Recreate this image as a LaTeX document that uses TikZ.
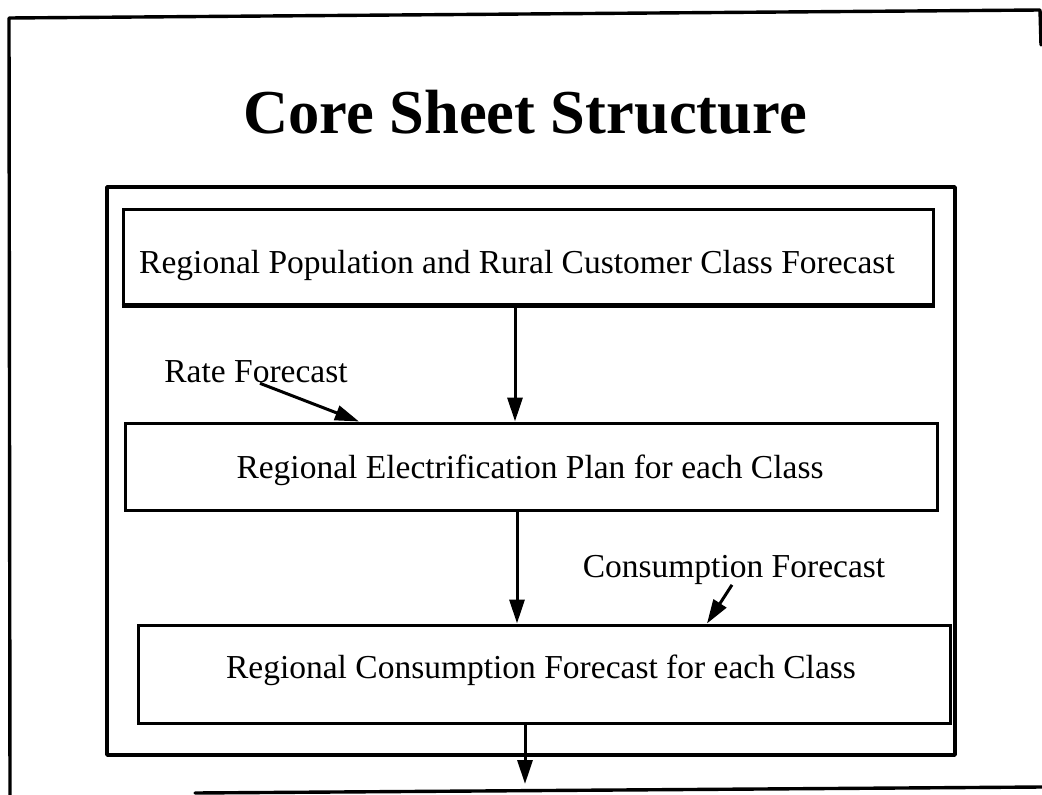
\documentclass[tikz,border=0pt]{standalone}
\usepackage{fontspec}
\setmainfont{Liberation Serif}
\usetikzlibrary{arrows.meta}
\begin{document}
\begin{tikzpicture}[x=1pt,y=-1pt,
  frame/.style={line width=3.4pt, line cap=round, line join=round},
  stagebox/.style={draw, line width=3pt, inner sep=0pt},
  boxtext/.style={font=\fontsize{33.5}{38}\selectfont},
  sidetext/.style={font=\fontsize{33.5}{38}\selectfont, inner sep=0pt},
  flow/.style={line width=3pt, -{Triangle[length=24pt,width=15pt]}}
]
\useasboundingbox (0,0) rectangle (1042,795);

% outer sheet frame
\draw[frame] (10,795) -- (9,18) -- (1040,10) -- (1041,45);
\draw[frame] (195,793) -- (1042,787);

% title
\node[font=\fontsize{62.5}{74}\selectfont\bfseries] (title) at (525,112) {Core Sheet Structure};

% inner frame
\draw[frame] (107,187) rectangle (955,755);

% stages
\node[stagebox, minimum width=810pt, minimum height=95pt] (b1) at (528,257) {};
\node[boxtext] (t1) at (517,265) {Regional Population and Rural Customer Class Forecast};
\draw[line width=4.5pt] (b1.south west) -- (b1.south east);

\node[stagebox, minimum width=812pt, minimum height=87pt] (b2) at (531,466.5) {};
\node[boxtext] (t2) at (530,470) {Regional Electrification Plan for each Class};

\node[stagebox, minimum width=812pt, minimum height=98pt] (b3) at (544,674) {};
\node[boxtext] (t3) at (541,670) {Regional Consumption Forecast for each Class};

% side inputs
\node[sidetext] (rate) at (256,372) {Rate Forecast};
\node[sidetext] (cons) at (734,570) {Consumption Forecast};

% flow between stages
\coordinate (a1s) at (515,305);
\coordinate (a1e) at (515,423);
\draw[flow] (b1.south -| a1s) -- (b2.north -| a1e);
\coordinate (a2) at (517,0);
\draw[flow] (b2.south -| a2) -- (b3.north -| a2);
\coordinate (a3) at (525,0);
\coordinate (outend) at (525,784);
\draw[flow] (b3.south -| a3) -- (outend);

% inputs into stages
\coordinate (rtip) at (359,0);
\draw[flow] ([xshift=4pt]rate.south) -- (b2.north -| rtip);
\coordinate (ctip) at (707,0);
\draw[flow] ([xshift=-2pt]cons.south) -- (b3.north -| ctip);
\end{tikzpicture}
\end{document}
